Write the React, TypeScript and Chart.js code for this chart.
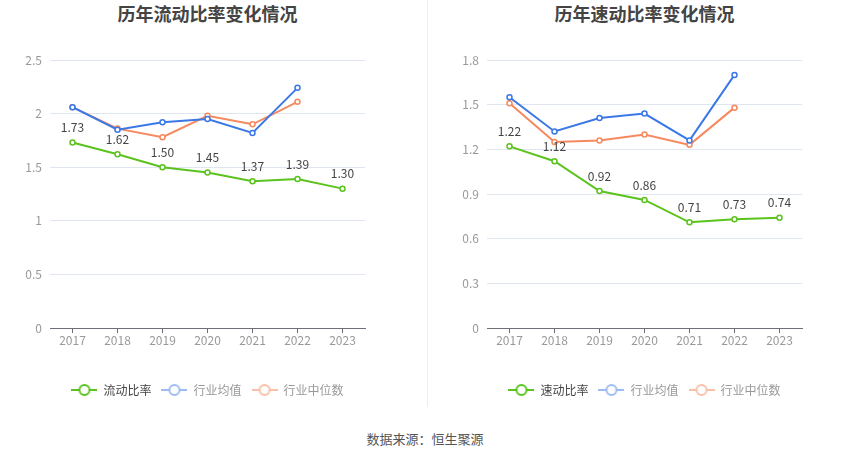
import React, { useRef, useEffect } from 'react';
import { Chart, registerables, type ChartConfiguration, type Plugin } from 'chart.js';

Chart.register(...registerables);

const years = ['2017', '2018', '2019', '2020', '2021', '2022', '2023'];

const currentRatio = [1.73, 1.62, 1.5, 1.45, 1.37, 1.39, 1.3];
const currentAvg = [2.06, 1.85, 1.92, 1.95, 1.82, 2.24, null];
const currentMedian = [2.06, 1.86, 1.78, 1.98, 1.9, 2.11, null];

const quickRatio = [1.22, 1.12, 0.92, 0.86, 0.71, 0.73, 0.74];
const quickAvg = [1.55, 1.32, 1.41, 1.44, 1.26, 1.7, null];
const quickMedian = [1.51, 1.25, 1.26, 1.3, 1.23, 1.48, null];

const GREEN = '#5ac31d';
const BLUE = '#3b78e7';
const ORANGE = '#f6895e';
const FONT = '"Noto Sans CJK SC", "Noto Sans", sans-serif';

function legendIcon(color: string) {
  const c = document.createElement('canvas');
  c.width = 26;
  c.height = 14;
  const ctx = c.getContext('2d')!;
  ctx.strokeStyle = color;
  ctx.lineWidth = 2;
  ctx.beginPath();
  ctx.moveTo(0, 7);
  ctx.lineTo(26, 7);
  ctx.stroke();
  ctx.beginPath();
  ctx.arc(13, 7, 5, 0, Math.PI * 2);
  ctx.fillStyle = '#fff';
  ctx.fill();
  ctx.stroke();
  return c;
}

const valueLabels: Plugin = {
  id: 'valueLabels',
  afterDatasetsDraw(chart) {
    const { ctx } = chart;
    const meta = chart.getDatasetMeta(0);
    const data = chart.data.datasets[0].data as number[];
    ctx.save();
    ctx.font = `12px ${FONT}`;
    ctx.fillStyle = '#444';
    ctx.textAlign = 'center';
    ctx.textBaseline = 'middle';
    meta.data.forEach((pt, i) => {
      ctx.fillText(data[i].toFixed(2), pt.x, pt.y - 15);
    });
    ctx.restore();
  },
};

interface Props {
  name: string;
  main: number[];
  avg: (number | null)[];
  median: (number | null)[];
  max: number;
  step: number;
}

function RatioChart({ name, main, avg, median, max, step }: Props) {
  const canvasRef = useRef<HTMLCanvasElement>(null);

  useEffect(() => {
    if (!canvasRef.current) return;
    const line = (label: string, data: (number | null)[], color: string) => ({
      label,
      data,
      borderColor: color,
      backgroundColor: '#fff',
      borderWidth: 2,
      pointRadius: 2.5,
      pointBorderWidth: 1.5,
      pointBackgroundColor: '#fff',
      pointBorderColor: color,
      tension: 0,
      spanGaps: false,
    });
    const icons = [legendIcon(GREEN), legendIcon('#9dbcf3'), legendIcon('#f9c0a8')];
    const textColors = ['#444', '#999', '#999'];

    const config: ChartConfiguration<'line'> = {
      type: 'line',
      data: {
        labels: years,
        datasets: [
          line(name, main, GREEN),
          line('行业均值', avg, BLUE),
          line('行业中位数', median, ORANGE),
        ],
      },
      options: {
        responsive: true,
        maintainAspectRatio: false,
        animation: false,
        layout: { padding: { top: 60, right: 10, left: 0, bottom: 4 } },
        plugins: {
          title: { display: false },
          tooltip: { enabled: false },
          legend: {
            position: 'bottom',
            labels: {
              usePointStyle: true,
              pointStyleWidth: 26,
              padding: 10,
              font: { size: 12, family: FONT },
              generateLabels: chart => {
                const items = Chart.defaults.plugins.legend.labels.generateLabels(chart);
                return items.map((it, i) => ({ ...it, pointStyle: icons[i], fontColor: textColors[i], hidden: false }));
              },
            },
          },
        },
        scales: {
          x: {
            offset: true,
            grid: { drawOnChartArea: false, drawTicks: true, tickLength: 5, color: '#6e7079' },
            border: { display: true, color: '#6e7079' },
            ticks: { color: '#999', font: { size: 12, family: FONT }, padding: 0, maxRotation: 0 },
            afterFit: s => { s.height = 46; },
          },
          y: {
            min: 0,
            max,
            border: { display: false },
            grid: { color: '#e0e6f1', drawTicks: false },
            ticks: {
              stepSize: step,
              color: '#999',
              padding: 8,
              font: { size: 12, family: FONT },
              callback: v => String(Math.round(Number(v) * 10) / 10),
            },
            afterFit: s => { s.width = 50; },
          },
          // empty axis on the right only keeps the plot narrow, so the legend stays centred
          pad: {
            type: 'linear',
            position: 'right',
            display: true,
            grid: { display: false },
            border: { display: false },
            ticks: { display: false },
            afterFit: s => { s.width = 50; },
          },
        },
      },
      plugins: [valueLabels],
    };
    const chart = new Chart(canvasRef.current, config);
    return () => chart.destroy();
  }, [name, main, avg, median, max, step]);

  return <canvas ref={canvasRef} />;
}

const titleStyle: React.CSSProperties = {
  position: 'absolute',
  top: 0,
  width: 415,
  textAlign: 'center',
  fontFamily: FONT,
  fontWeight: 'bold',
  fontSize: 18,
  color: '#444',
};

export default function App() {
  return (
    <div style={{ position: 'fixed', left: 0, top: 0, width: 850, height: 459, background: '#fff', fontFamily: FONT }}>
      <div style={{ ...titleStyle, left: 0 }}>历年流动比率变化情况</div>
      <div style={{ ...titleStyle, left: 437 }}>历年速动比率变化情况</div>
      <div style={{ position: 'absolute', left: 0, top: 0, width: 425, height: 410 }}>
        <RatioChart name="流动比率" main={currentRatio} avg={currentAvg} median={currentMedian} max={2.5} step={0.5} />
      </div>
      <div style={{ position: 'absolute', left: 437, top: 0, width: 425, height: 410 }}>
        <RatioChart name="速动比率" main={quickRatio} avg={quickAvg} median={quickMedian} max={1.8} step={0.3} />
      </div>
      <div style={{ position: 'absolute', left: 427, top: 0, width: 1, height: 407, background: '#eee' }} />
      <div style={{ position: 'absolute', left: 0, top: 429, width: 850, textAlign: 'center', fontSize: 13, color: '#555' }}>
        数据来源：恒生聚源
      </div>
    </div>
  );
}
